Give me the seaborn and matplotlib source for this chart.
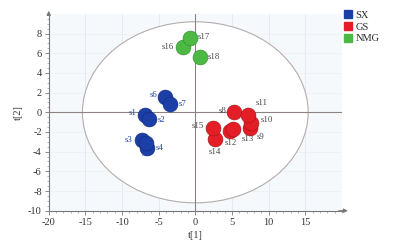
import matplotlib
matplotlib.use("Agg")
import matplotlib.pyplot as plt
from matplotlib.patches import Ellipse
from matplotlib.lines import Line2D
from matplotlib.ticker import MultipleLocator
import pandas as pd
import seaborn as sns

# PCA score plot data (t[1], t[2])
samples = ["s1", "s2", "s3", "s4", "s5", "s6", "s7",
           "s8", "s9", "s10", "s11", "s12", "s13", "s14", "s15",
           "s16", "s17", "s18"]
groups = ["SX"] * 7 + ["GS"] * 8 + ["NMG"] * 3
t1 = [-6.86, -6.28, -7.30, -6.55, -6.72, -4.13, -3.45,
      5.32, 7.46, 7.60, 7.23, 4.73, 5.18, 2.69, 2.37,
      -1.72, -0.72, 0.64]
t2 = [-0.27, -0.71, -2.80, -3.65, -3.08, 1.59, 0.84,
      0.00, -1.63, -1.12, -0.27, -1.87, -1.73, -2.75, -1.63,
      6.60, 7.52, 5.65]
group_order = ["SX", "GS", "NMG"]
colors = {"SX": "#1b3fa6", "GS": "#e41e26", "NMG": "#4cb944"}
edges = {"SX": "#10287a", "GS": "#a51018", "NMG": "#2f8a2a"}

# label placement: (dx px, dy px, ha)
label_pos = {
    "s1": (-8, 2, "right"), "s2": (8, -1, "left"), "s3": (-9, 0, "right"),
    "s4": (8, 0, "left"), "s5": (0, -11, "center"), "s6": (-8, 2, "right"),
    "s7": (9, 0, "left"), "s8": (-8, 1, "right"), "s9": (7, -9, "left"),
    "s10": (10, 3, "left"), "s11": (7, 12, "left"), "s12": (-5, -12, "left"),
    "s13": (8, -10, "left"), "s14": (0, -13, "center"), "s15": (-9, 2, "right"),
    "s16": (-9, 0, "right"), "s17": (8, 1, "left"), "s18": (8, 0, "left"),
}

df = pd.DataFrame({"sample": samples, "group": groups, "t1": t1, "t2": t2})

sns.set_theme(style="white")
plt.rcParams["font.family"] = ["Liberation Serif", "DejaVu Serif"]
plt.rcParams["axes.unicode_minus"] = False

fig = plt.figure(figsize=(4.06, 2.46), dpi=100)
ax = fig.add_axes([0.12, 0.1435, 0.722, 0.8])
ax.set_facecolor("#f6f9fc")

ax.set_xlim(-20, 20)
ax.set_ylim(-10, 10)

# faint grid
for gx in [-15, -10, -5, 5, 10, 15]:
    ax.axvline(gx, color="#e4e9f0", lw=0.6, zorder=0)
for gy in [-8, -6, -4, -2, 2, 4, 6, 8]:
    ax.axhline(gy, color="#edf0f4", lw=0.6, zorder=0)

ax.add_patch(Ellipse((0, 0), 30.8, 18.4, fill=True, facecolor="white",
                     edgecolor="#b5acac", lw=0.8, zorder=1))
ax.axhline(0, color="#8c8282", lw=0.8, zorder=2)
ax.axvline(0, color="#8c8282", lw=0.8, zorder=2)

for g in group_order:
    sub = df[df["group"] == g]
    sns.scatterplot(data=sub, x="t1", y="t2", color=colors[g], s=115,
                    edgecolor=edges[g], linewidth=0.4, ax=ax, zorder=4,
                    legend=False)

for _, r in df.iterrows():
    dx, dy, ha = label_pos[r["sample"]]
    col = "#1b3fa6" if r["group"] == "SX" else "#444444"
    ax.annotate(r["sample"], (r["t1"], r["t2"]), xytext=(dx, dy),
                textcoords="offset pixels", ha=ha, va="center",
                fontsize=6.3, color=col, zorder=3 if r["sample"] == "s5" else 5)

for s in ["top", "right"]:
    ax.spines[s].set_visible(False)
for s in ["left", "bottom"]:
    ax.spines[s].set_color("#777777")
    ax.spines[s].set_linewidth(0.8)

# axis arrows
ax.annotate("", xy=(1.03, 0), xycoords="axes fraction", xytext=(0.98, 0),
            arrowprops=dict(arrowstyle="-|>", color="#777777", lw=0.8,
                            mutation_scale=6), annotation_clip=False)
ax.annotate("", xy=(0, 1.03), xycoords="axes fraction", xytext=(0, 0.98),
            arrowprops=dict(arrowstyle="-|>", color="#777777", lw=0.8,
                            mutation_scale=6), annotation_clip=False)

ax.set_xticks([-20, -15, -10, -5, 0, 5, 10, 15])
ax.set_yticks([-10, -8, -6, -4, -2, 0, 2, 4, 6, 8])
ax.xaxis.set_minor_locator(MultipleLocator(1))
ax.yaxis.set_minor_locator(MultipleLocator(0.5))
ax.tick_params(axis="both", which="major", direction="out", length=3,
               width=0.6, color="#777777", labelsize=7.5, labelcolor="#333333",
               pad=2, bottom=True, left=True)
ax.tick_params(axis="both", which="minor", direction="out", length=1.5,
               width=0.5, color="#999999", bottom=True, left=True)

ax.set_xlabel("t[1]", fontsize=7.5, color="#333333", labelpad=3)
ax.set_ylabel("t[2]", fontsize=7.5, color="#333333", labelpad=4)

handles = [Line2D([], [], marker="s", linestyle="", markersize=6,
                  markerfacecolor=colors[g], markeredgecolor=colors[g])
           for g in group_order]
fig.legend(handles, group_order, loc="upper left",
           bbox_to_anchor=(0.835, 0.975), frameon=False, fontsize=7.5,
           handletextpad=0.2, labelspacing=0.25, handlelength=1.0,
           borderaxespad=0)

fig.savefig("out.png", dpi=100)
